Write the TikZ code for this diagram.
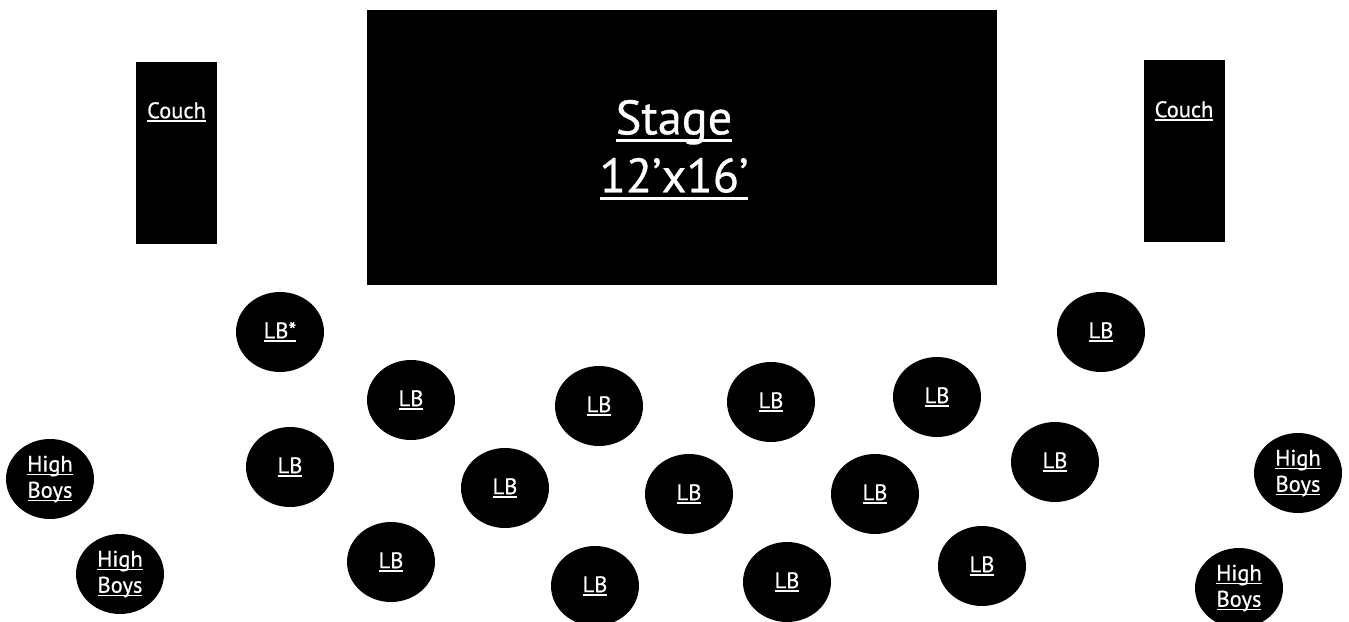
\documentclass[tikz,border=0pt]{standalone}
\usepackage{fontspec}
\setmainfont{PT Sans}
\newfontfamily\planfont[FakeBold=0.6]{PT Sans}
\usetikzlibrary{shapes.geometric,positioning}
\newcommand\undl[1]{\setbox0\hbox{#1}\rlap{\rule[-0.16em]{\wd0}{0.06em}}\box0}
\tikzset{
  lbtable/.style={ellipse, fill=black, text=white, minimum width=1.76cm,
    minimum height=1.6cm, inner sep=0pt, font=\planfont\fontsize{12.8}{14.8}\selectfont},
  hbtable/.style={lbtable, align=center},
  couchbox/.style={rectangle, fill=black, minimum width=1.62cm,
    minimum height=3.64cm, inner sep=0pt},
  couchtext/.style={text=white, inner sep=0pt, font=\planfont\fontsize{12.8}{14.8}\selectfont},
  stagebox/.style={rectangle, fill=black, minimum width=12.6cm,
    minimum height=5.52cm, inner sep=0pt},
  stagetext/.style={text=white, align=center, inner sep=0pt,
    font=\planfont\fontsize{27.5}{33}\selectfont}
}
\begin{document}
\begin{tikzpicture}[x=0.02cm, y=-0.02cm]
\useasboundingbox (0,0) rectangle (1349,622);
% stage and couches
\node[stagebox] (stage) at (682,147.5) {};
\node[stagetext] (stagelbl) at (674,150) {\undl{Stage}\\\undl{12’x16’}};
\node[couchbox] (couchL) at (176.5,153) {};
\node[couchtext] (couchLlbl) at (176.5,112) {\undl{Couch}};
\node[couchbox] (couchR) at (1184,151) {};
\node[couchtext] (couchRlbl) at (1184,111) {\undl{Couch}};
% lowboy tables
\node[lbtable] (lbstar) at (280,332) {\undl{LB*}};
\node[lbtable] (lb1) at (411,400) {\undl{LB}};
\node[lbtable] (lb2) at (599,406) {\undl{LB}};
\node[lbtable] (lb3) at (771,402) {\undl{LB}};
\node[lbtable] (lb4) at (937,397) {\undl{LB}};
\node[lbtable] (lb5) at (1101,332) {\undl{LB}};
\node[lbtable] (lb6) at (290,467) {\undl{LB}};
\node[lbtable] (lb7) at (505,488) {\undl{LB}};
\node[lbtable] (lb8) at (689,494) {\undl{LB}};
\node[lbtable] (lb9) at (875,494) {\undl{LB}};
\node[lbtable] (lb10) at (1055,462) {\undl{LB}};
\node[lbtable] (lb11) at (391,562) {\undl{LB}};
\node[lbtable] (lb12) at (595,586) {\undl{LB}};
\node[lbtable] (lb13) at (787,582) {\undl{LB}};
\node[lbtable] (lb14) at (982,566) {\undl{LB}};
% high boys
\node[hbtable] (hb1) at (50,479) {\undl{High}\\\undl{Boys}};
\node[hbtable] (hb2) at (120,574) {\undl{High}\\\undl{Boys}};
\node[hbtable] (hb3) at (1298,473) {\undl{High}\\\undl{Boys}};
\node[hbtable] (hb4) at (1239,588) {\undl{High}\\\undl{Boys}};
\end{tikzpicture}
\end{document}
